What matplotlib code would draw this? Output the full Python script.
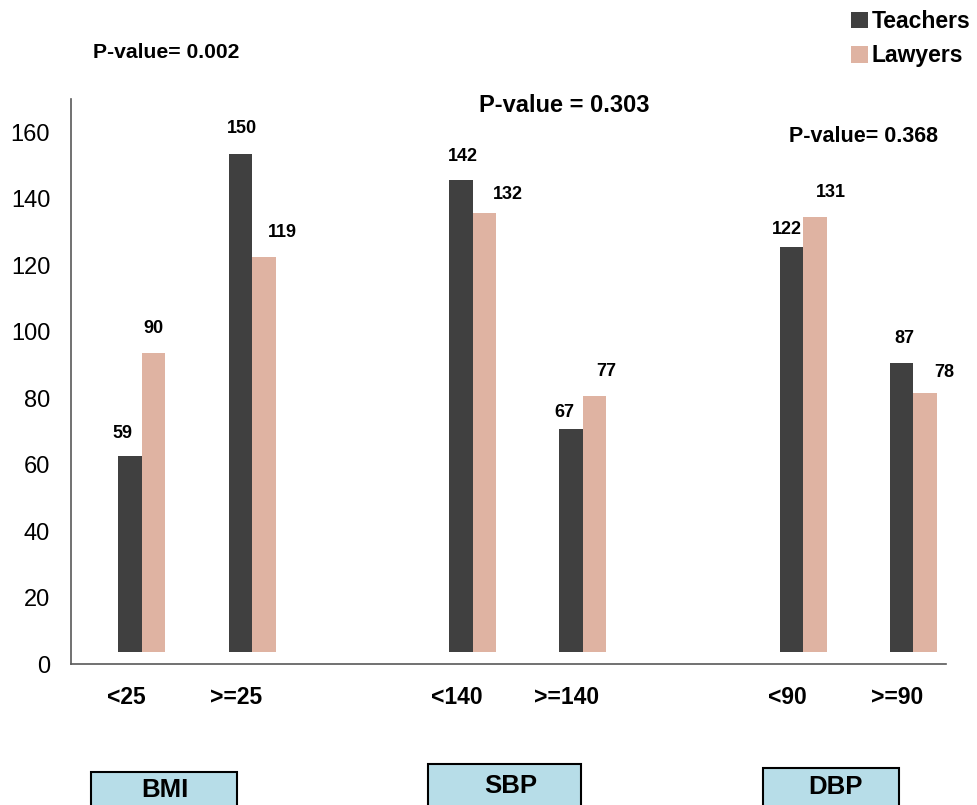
import matplotlib.pyplot as plt
from matplotlib.patches import Rectangle

plt.rcParams["font.family"] = ["Liberation Sans", "DejaVu Sans"]

# counts per category
categories = ["<25", ">=25", "<140", ">=140", "<90", ">=90"]
teachers = [59, 150, 142, 67, 122, 87]
lawyers = [90, 119, 132, 77, 131, 78]
groups = ["BMI", "SBP", "DBP"]
p_values = ["0.002", "0.303", "0.368"]

W, H = 978, 805
x = [0, 1, 3, 4, 6, 7]
width = 0.213
base = 3.6  # bars sit slightly above the axis line

# label offsets above each bar, in pixels (dx, dy)
t_off = [(-8, 22), (2, 25), (2, 24), (-7, 17), (-5, 17), (3, 24)]
l_off = [(0, 24), (18, 24), (24, 19), (12, 25), (16, 24), (19, 20)]

fig = plt.figure(figsize=(W / 100, H / 100), dpi=100)
ax = fig.add_axes([71 / W, 141 / H, 875 / W, 565 / H])

bt = ax.bar([xi - width / 2 for xi in x], teachers, width, bottom=base,
            color="#404040", label="Teachers")
bl = ax.bar([xi + width / 2 for xi in x], lawyers, width, bottom=base,
            color="#dfb3a2", label="Lawyers")

for vals, offs, sign in [(teachers, t_off, -1), (lawyers, l_off, 1)]:
    for xi, v, (dx, dy) in zip(x, vals, offs):
        ax.annotate(str(v), (xi + sign * width / 2, base + v),
                    xytext=(dx, dy), textcoords="offset pixels",
                    ha="center", va="center", fontsize=13, fontweight="bold")

ax.set_xlim(-0.644, 7.296)
ax.set_ylim(0, 170)
ax.set_yticks(range(0, 161, 20))
# category labels sit a little left of each bar pair
ax.set_xticks([xi - 0.145 for xi in x], categories, fontsize=16.5, fontweight="bold")
ax.tick_params(axis="y", length=0, pad=15, labelsize=17)
ax.tick_params(axis="x", length=0, pad=16)
for side in ["top", "right"]:
    ax.spines[side].set_visible(False)
for side in ["left", "bottom"]:
    ax.spines[side].set_color("#595959")
    ax.spines[side].set_linewidth(1.2)

# p-values for each group
p_pos = [(93, 52, "P-value= ", 15.2), (479, 106, "P-value = ", 17), (789, 137, "P-value= ", 15.5)]
for (px, py, prefix, fs), pv in zip(p_pos, p_values):
    fig.text(px / W, 1 - py / H, prefix + pv, ha="left", va="center",
             fontsize=fs, fontweight="bold")

# group boxes under the axis
box_pos = [(91, 237, 772, 165, 790), (428, 581, 764, 511, 786), (763, 899, 768, 836, 787)]
for (x0, x1, top, tx, ty), name in zip(box_pos, groups):
    fig.add_artist(Rectangle((x0 / W, -10 / H), (x1 - x0) / W, (H - top + 10) / H,
                             transform=fig.transFigure, facecolor="#b7dde8",
                             edgecolor="black", linewidth=1.5, clip_on=False))
    fig.text(tx / W, 1 - ty / H, name, ha="center", va="center",
             fontsize=18.5, fontweight="bold")

fig.legend(handles=[bt, bl], loc="upper left", bbox_to_anchor=(851 / W, 1 - 10 / H),
           frameon=False, prop={"size": 16.5, "weight": "bold"},
           handlelength=0.75, handleheight=0.75, handletextpad=0.15,
           labelspacing=0.5, borderpad=0, borderaxespad=0)

fig.savefig("out.png", dpi=100)
